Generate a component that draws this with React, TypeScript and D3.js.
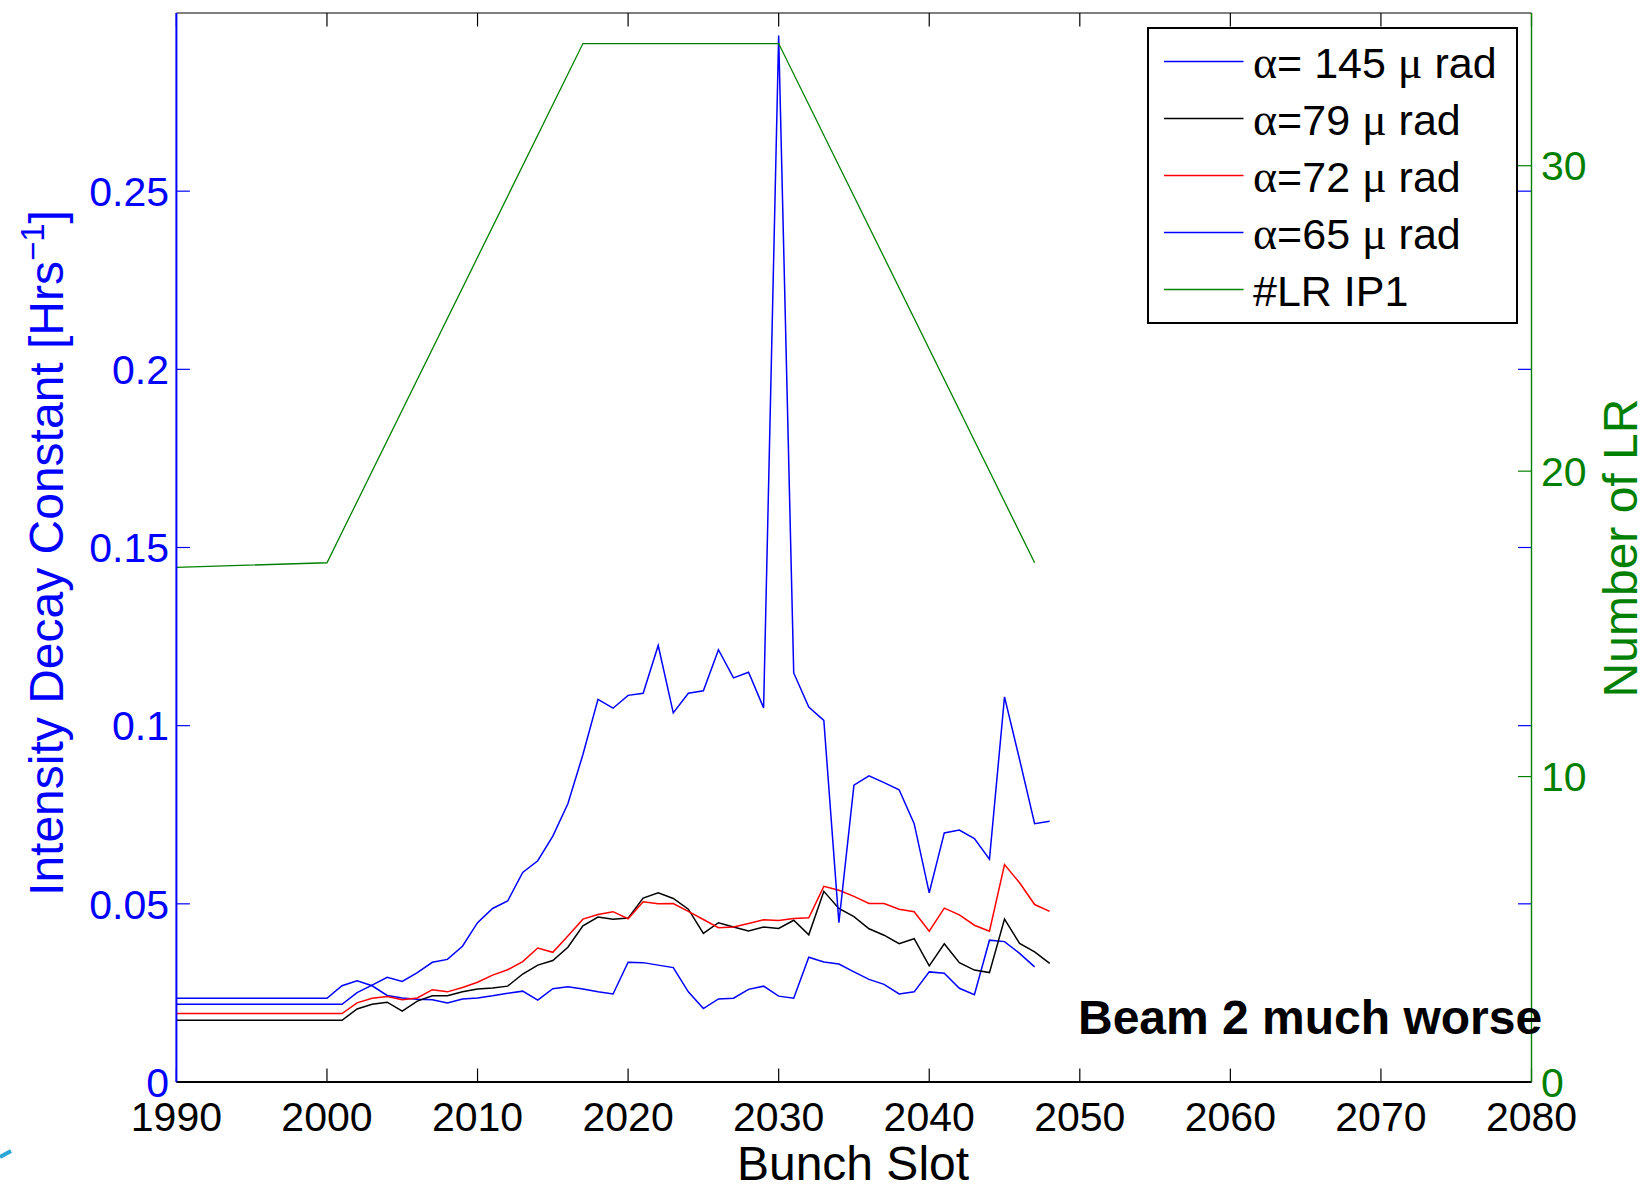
import React from "react";
import * as d3 from "d3";

// ---------- data ----------
const slots = [
  1990, 2000, 2001, 2002, 2003, 2004, 2005, 2006, 2007, 2008, 2009,
  2010, 2011, 2012, 2013, 2014, 2015, 2016, 2017, 2018, 2019,
  2020, 2021, 2022, 2023, 2024, 2025, 2026, 2027, 2028, 2029,
  2030, 2031, 2032, 2033, 2034, 2035, 2036, 2037, 2038, 2039,
  2040, 2041, 2042, 2043, 2044, 2045, 2046, 2047, 2048,
];

// alpha = 145 urad (ends at 2047)
const alpha145 = [
  0.0235, 0.0235, 0.027, 0.0284, 0.027, 0.0243, 0.0236, 0.0232, 0.0231, 0.0222, 0.0233,
  0.0236, 0.0242, 0.0249, 0.0255, 0.023, 0.0262, 0.0267, 0.0261, 0.0253, 0.0247,
  0.0336, 0.0335, 0.0328, 0.0321, 0.0253, 0.0206, 0.0233, 0.0235, 0.026, 0.0269,
  0.0241, 0.0235, 0.035, 0.0337, 0.0331, 0.0309, 0.0288, 0.0274, 0.0247, 0.0253,
  0.0309, 0.0305, 0.0263, 0.0245, 0.0398, 0.0394, 0.0361, 0.0323,
];

// alpha = 79 urad
const alpha79 = [
  0.0173, 0.0173, 0.0173, 0.0205, 0.0218, 0.0224, 0.0199, 0.0227, 0.0242, 0.0242, 0.0253,
  0.0261, 0.0264, 0.0269, 0.0303, 0.0328, 0.0341, 0.0378, 0.0438, 0.0463, 0.0457,
  0.046, 0.0516, 0.0531, 0.0515, 0.0485, 0.0417, 0.0447, 0.0435, 0.0424, 0.0435,
  0.0431, 0.0454, 0.0413, 0.0535, 0.0487, 0.0464, 0.043, 0.0412, 0.0388, 0.0402,
  0.0326, 0.0388, 0.0335, 0.0314, 0.0307, 0.0457, 0.0389, 0.0365, 0.0333,
];

// alpha = 72 urad
const alpha72 = [
  0.0192, 0.0192, 0.0192, 0.0222, 0.0235, 0.024, 0.0231, 0.0236, 0.0259, 0.0253, 0.0265,
  0.028, 0.03, 0.0315, 0.0338, 0.0376, 0.0364, 0.041, 0.0457, 0.047, 0.0478,
  0.0458, 0.0506, 0.05, 0.0501, 0.0479, 0.0456, 0.0433, 0.0435, 0.0445, 0.0455,
  0.0453, 0.0459, 0.0461, 0.0549, 0.0538, 0.0521, 0.0501, 0.0501, 0.0485, 0.0478,
  0.0423, 0.0488, 0.0469, 0.044, 0.0423, 0.061, 0.0559, 0.0498, 0.0479,
];

// alpha = 65 urad
const alpha65 = [
  0.0218, 0.0218, 0.0218, 0.0251, 0.0272, 0.0294, 0.0282, 0.0307, 0.0336, 0.0344, 0.0381,
  0.0447, 0.0487, 0.0508, 0.0588, 0.0621, 0.069, 0.0781, 0.0919, 0.1074, 0.1049,
  0.1085, 0.1091, 0.1225, 0.1036, 0.1091, 0.1098, 0.1213, 0.1134, 0.115, 0.105,
  0.2937, 0.1148, 0.1052, 0.1015, 0.0447, 0.0833, 0.0859, 0.084, 0.082, 0.0725,
  0.0531, 0.0699, 0.0707, 0.0683, 0.0625, 0.1081, 0.0905, 0.0725, 0.0732,
];

// number of long-range encounters at IP1
const lrSlots = [1990, 2000, 2017, 2030, 2047];
const lrCounts = [16.85, 17, 34, 34, 17];

const xTicks = [1990, 2000, 2010, 2020, 2030, 2040, 2050, 2060, 2070, 2080];
const yLeftTicks = [0, 0.05, 0.1, 0.15, 0.2, 0.25];
const yLeftLabels = ["0", "0.05", "0.1", "0.15", "0.2", "0.25"];
const yRightTicks = [0, 10, 20, 30];

const legendNames = ["145", "79", "72", "65"];

// ---------- layout ----------
const W = 1646;
const H = 1185;
const L = 176.4;
const R = 1531.5;
const T = 13;
const B = 1082;

const BLUE = "#0000ff";
const GREEN = "#008000";
const RED = "#ff0000";
const BLACK = "#000000";
const SANS = "'Liberation Sans', Arial, Helvetica, sans-serif";
const SERIF = "'Liberation Serif', 'Times New Roman', serif";

export default function App() {
  const x = d3.scaleLinear().domain([1990, 2080]).range([L, R]);
  const yL = d3.scaleLinear().domain([0, 0.3]).range([B, T]);
  const yR = d3.scaleLinear().domain([0, 35]).range([B, T]);

  const lineL = d3
    .line<[number, number]>()
    .x((d) => x(d[0]))
    .y((d) => yL(d[1]));
  const lineR = d3
    .line<[number, number]>()
    .x((d) => x(d[0]))
    .y((d) => yR(d[1]));

  const pts = (vals: number[]) =>
    vals.map((v, i) => [slots[i], v] as [number, number]);

  const series = [
    { vals: alpha145, color: BLUE },
    { vals: alpha79, color: BLACK },
    { vals: alpha72, color: RED },
    { vals: alpha65, color: BLUE },
  ];
  const legendColors = [BLUE, BLACK, RED, BLUE, GREEN];
  const lrPts = lrSlots.map((s, i) => [s, lrCounts[i]] as [number, number]);

  const tickLen = 13.5;
  const fs = 41;

  const legX = 1148;
  const legY = 28;
  const legW = 369;
  const legH = 295;
  const rowY = (i: number) => 61.5 + i * 57;

  return (
    <svg
      width={W}
      height={H}
      style={{ position: "absolute", left: 0, top: 0, display: "block", background: "#fff" }}
      xmlns="http://www.w3.org/2000/svg"
    >
      <rect x={0} y={0} width={W} height={H} fill="#ffffff" />

      {/* top frame + ticks */}
      <line x1={L} x2={R} y1={T} y2={T} stroke={BLACK} strokeWidth={1.2} />
      {xTicks.map((t) => (
        <line key={"tt" + t} x1={x(t)} x2={x(t)} y1={T} y2={T + tickLen} stroke={BLACK} strokeWidth={1.2} />
      ))}
      {/* bottom axis ticks */}
      {xTicks.map((t) => (
        <line key={"bt" + t} x1={x(t)} x2={x(t)} y1={B} y2={B - tickLen} stroke={BLACK} strokeWidth={1.2} />
      ))}

      {/* left ticks (blue) on both sides */}
      {yLeftTicks.map((t) => (
        <g key={"yl" + t}>
          <line x1={L} x2={L + tickLen} y1={yL(t)} y2={yL(t)} stroke={BLUE} strokeWidth={1.2} />
          <line x1={R} x2={R - tickLen} y1={yL(t)} y2={yL(t)} stroke={BLUE} strokeWidth={1.2} />
        </g>
      ))}
      {/* right ticks (green) */}
      {yRightTicks.map((t) => (
        <line key={"yr" + t} x1={R} x2={R - tickLen} y1={yR(t)} y2={yR(t)} stroke={GREEN} strokeWidth={1.2} />
      ))}

      {/* data series */}
      {series.map((s, i) => (
        <path key={"s" + i} d={lineL(pts(s.vals)) || ""} fill="none" stroke={s.color} strokeWidth={1.5} strokeLinejoin="miter" />
      ))}
      <path d={lineR(lrPts) || ""} fill="none" stroke={GREEN} strokeWidth={1.3} />

      {/* axis lines */}
      <line x1={L} x2={R} y1={B} y2={B} stroke={BLACK} strokeWidth={2} />
      <line x1={L} x2={L} y1={T} y2={B} stroke={BLUE} strokeWidth={2} />
      <line x1={R} x2={R} y1={T} y2={B} stroke={GREEN} strokeWidth={1.4} />

      {/* x tick labels */}
      {xTicks.map((t) => (
        <text key={"xl" + t} x={x(t)} y={1131} fontFamily={SANS} fontSize={fs} textAnchor="middle" fill={BLACK}>
          {t}
        </text>
      ))}
      {/* left tick labels */}
      {yLeftTicks.map((t, i) => (
        <text key={"yll" + t} x={169} y={yL(t) + 14.7} fontFamily={SANS} fontSize={fs} textAnchor="end" fill={BLUE}>
          {yLeftLabels[i]}
        </text>
      ))}
      {/* right tick labels */}
      {yRightTicks.map((t) => (
        <text key={"yrl" + t} x={1541} y={yR(t) + 14.7} fontFamily={SANS} fontSize={fs} textAnchor="start" fill={GREEN}>
          {t}
        </text>
      ))}

      {/* axis titles */}
      <text x={853} y={1180} fontFamily={SANS} fontSize={48} textAnchor="middle" fill={BLACK}>
        Bunch Slot
      </text>
      <text
        transform="translate(63,553) rotate(-90)"
        fontFamily={SANS}
        fontSize={48}
        textAnchor="middle"
        fill={BLUE}
      >
        Intensity Decay Constant [Hrs
        <tspan fontSize={33} dy={-19}>−1</tspan>
        <tspan dy={19}>]</tspan>
      </text>
      <text
        transform="translate(1637,548) rotate(-90)"
        fontFamily={SANS}
        fontSize={48}
        textAnchor="middle"
        fill={GREEN}
      >
        Number of LR
      </text>

      {/* annotation */}
      <text x={1078} y={1034} fontFamily={SANS} fontSize={48} fontWeight="bold" fill={BLACK}>
        Beam 2 much worse
      </text>

      {/* legend */}
      <rect x={legX} y={legY} width={legW} height={legH} fill="#ffffff" stroke={BLACK} strokeWidth={2} />
      {legendColors.map((c, i) => (
        <g key={"lg" + i}>
          <line x1={1164} x2={1243.5} y1={rowY(i)} y2={rowY(i)} stroke={c} strokeWidth={1.3} />
          {i < 4 ? (
            <text x={1253} y={rowY(i) + 16.5} fontSize={43} fill={BLACK} style={{ whiteSpace: "pre" }}>
              <tspan fontFamily={SERIF} fontSize={46}>α</tspan>
              <tspan fontFamily={SANS}>{i === 0 ? "= " + legendNames[i] + " " : "=" + legendNames[i] + " "}</tspan>
              <tspan fontFamily={SERIF} fontSize={46}>μ</tspan>
              <tspan fontFamily={SANS}>{" rad"}</tspan>
            </text>
          ) : (
            <text x={1253} y={rowY(i) + 16.5} fontSize={43} fontFamily={SANS} fill={BLACK}>
              #LR IP1
            </text>
          )}
        </g>
      ))}

      {/* small logo fragment at bottom-left */}
      <path d="M0,1157 L11,1151" stroke="#2aa6d6" strokeWidth={4} fill="none" />
    </svg>
  );
}
